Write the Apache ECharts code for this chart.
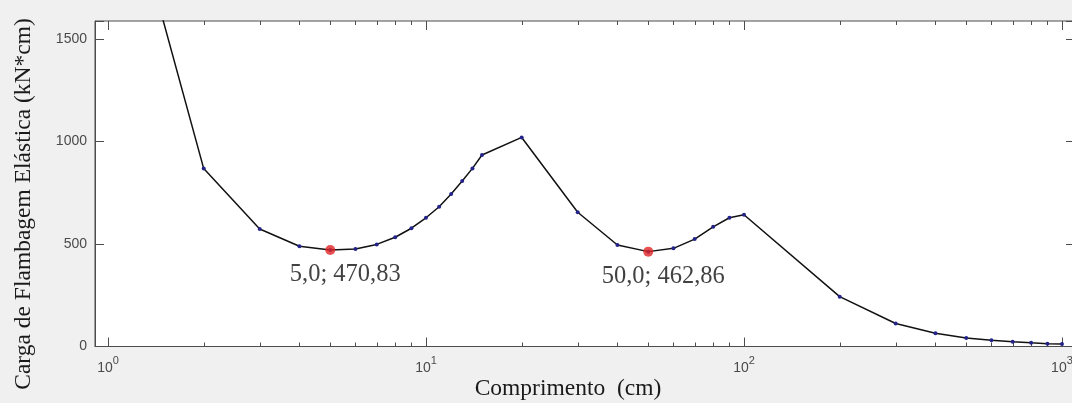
<!DOCTYPE html>
<html>
<head>
<meta charset="utf-8">
<script src="https://cdn.jsdelivr.net/npm/echarts@6/dist/echarts.min.js"></script>
<style>
html,body{margin:0;padding:0;background:#f0f0f0;}
#chart{width:1072px;height:403px;}
</style>
</head>
<body>
<div id="chart"></div>
<script>
// ---- data ----
const lengths = [1,2,3,4,5,6,7,8,9,10,11,12,13,14,15,20,30,40,50,60,70,80,90,100,200,300,400,500,600,700,800,900,1000];
const loads   = [2573,868,573,489,470.83,476,498,533,577,628,682,744,807,869,934,1020,655,495,462.86,479,524,584,628,643,243,112,65,42,31,23,18,14,12];
const minimaX = [5, 50];
const minimaY = [470.83, 462.86];
const minimaText = ['5,0; 470,83', '50,0; 462,86'];
const minorTicks = [2,3,4,5,6,7,8,9,20,30,40,50,60,70,80,90,200,300,400,500,600,700,800,900];
const yTicks = [0, 500, 1000, 1500];
const xTitle = 'Comprimento  (cm)';
const yTitle = 'Carga de Flambagem Elástica (kN*cm)';

const X_MIN = 0.9102, X_MAX = 1099, Y_MAX = 1588;
const axisColor = '#4d4d4d';
const labelColor = '#4a4a4a';
const sans = '"Liberation Sans", Arial, sans-serif';
const serif = '"Liberation Serif", "Times New Roman", serif';

const chart = echarts.init(document.getElementById('chart'), null, {renderer: 'canvas'});

function powLabel(v) {
  const l = Math.log10(v);
  const e = Math.round(l);
  if (Math.abs(l - e) > 1e-6) return '';
  return '{b|10}{s|' + e + '}';
}

const option = {
  backgroundColor: '#f0f0f0',
  animation: false,
  grid: {
    left: 95, top: 21, width: 980, height: 325.5,
    show: true, backgroundColor: '#ffffff', borderColor: axisColor, borderWidth: 1,
    containLabel: false, outerBoundsMode: 'none'
  },
  xAxis: [{
    type: 'log', logBase: 10, min: X_MIN, max: X_MAX, position: 'bottom',
    axisLine: {show: true, onZero: false, lineStyle: {color: axisColor, width: 1}},
    axisTick: {show: true, inside: true, length: 9, lineStyle: {color: axisColor}},
    splitLine: {show: false},
    axisLabel: {
      show: true, margin: 9, color: labelColor, fontFamily: sans,
      formatter: powLabel,
      rich: {
        b: {fontSize: 14, fontFamily: sans, color: labelColor, padding: [6, 0, 0, 0]},
        s: {fontSize: 11, fontFamily: sans, color: labelColor, verticalAlign: 'top'}
      }
    }
  }, {
    type: 'log', logBase: 10, min: X_MIN, max: X_MAX, position: 'top',
    axisLine: {show: false, onZero: false},
    axisTick: {show: true, inside: true, length: 9, lineStyle: {color: axisColor}},
    splitLine: {show: false},
    axisLabel: {show: false}
  }],
  yAxis: [{
    type: 'value', min: 0, max: Y_MAX, interval: 500, position: 'left',
    axisLine: {show: true, onZero: false, lineStyle: {color: axisColor, width: 1}},
    axisTick: {show: true, inside: true, length: 9, lineStyle: {color: axisColor}},
    splitLine: {show: false},
    axisLabel: {
      margin: 8, color: labelColor, fontFamily: sans, fontSize: 14,
      formatter: v => (yTicks.indexOf(v) >= 0 ? String(v) : '')
    }
  }, {
    type: 'value', min: 0, max: Y_MAX, interval: 500, position: 'right',
    axisLine: {show: false, onZero: false},
    axisTick: {show: true, inside: true, length: 9, lineStyle: {color: axisColor}},
    splitLine: {show: false},
    axisLabel: {show: false}
  }],
  graphic: [{
    type: 'text', x: 568, y: 389,
    style: {text: xTitle, font: '23.5px ' + serif, fill: '#1a1a1a', align: 'center', verticalAlign: 'middle'}
  }, {
    type: 'text', x: 24, y: 204, rotation: Math.PI / 2,
    style: {text: yTitle, font: '23.5px ' + serif, fill: '#1a1a1a', align: 'center', verticalAlign: 'middle'}
  }],
  series: [{
    type: 'custom',
    silent: true,
    clip: false,
    xAxisIndex: 0, yAxisIndex: 0,
    data: minorTicks.map(v => [v, 0]),
    renderItem: function (params, api) {
      const cs = params.coordSys;
      const x = Math.round(api.coord([api.value(0), 0])[0]) + 0.5;
      const yb = cs.y + cs.height, yt = cs.y;
      return {
        type: 'group',
        children: [
          {type: 'line', shape: {x1: x, y1: yb, x2: x, y2: yb - 4}, style: {stroke: axisColor, lineWidth: 1}},
          {type: 'line', shape: {x1: x, y1: yt, x2: x, y2: yt + 4}, style: {stroke: axisColor, lineWidth: 1}}
        ]
      };
    }
  }, {
    type: 'line',
    xAxisIndex: 0, yAxisIndex: 0,
    data: lengths.map((x, i) => [x, loads[i]]),
    clip: true,
    showSymbol: true,
    symbol: 'circle',
    symbolSize: 4,
    itemStyle: {color: '#23238a'},
    lineStyle: {color: '#111111', width: 1.5},
    z: 3
  }, {
    type: 'scatter',
    xAxisIndex: 0, yAxisIndex: 0,
    data: minimaX.map((x, i) => [x, minimaY[i]]),
    symbol: 'circle',
    symbolSize: 10,
    itemStyle: {color: '#e02424'},
    label: {
      show: true, position: 'bottom', distance: 7, offset: [15, 0],
      formatter: p => minimaText[p.dataIndex],
      fontFamily: serif, fontSize: 24.5, color: '#111111'
    },
    z: 4
  }]
};
chart.setOption(option);
</script>
</body>
</html>
